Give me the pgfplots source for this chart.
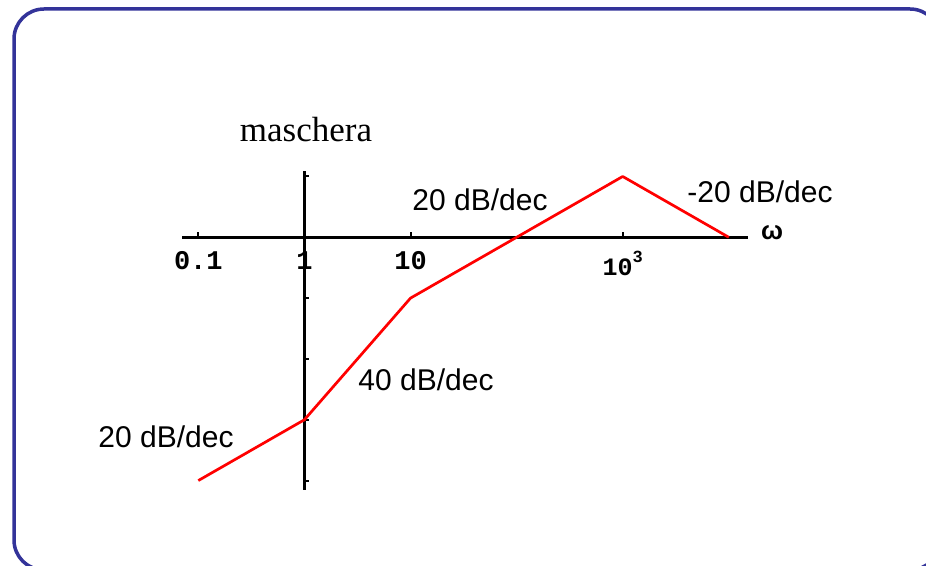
\documentclass[border=0pt]{standalone}
\usepackage{fontspec}
\setmainfont{Liberation Serif}
\setsansfont{Liberation Sans}
\setmonofont{Liberation Mono}
\usepackage{pgfplots}
\pgfplotsset{compat=1.18}
\definecolor{frameblue}{HTML}{333399}
\begin{document}
\begin{tikzpicture}[x=1pt,y=1pt]
\useasboundingbox (0,0) rectangle (926,565);
% rounded frame, partly cut at the right and bottom edges
\begin{scope}
  \clip (0,0) rectangle (926,565);
  \draw[frameblue, line width=3.5pt, rounded corners=30pt] (14,-5) rectangle (940,556);
\end{scope}
\begin{axis}[
  at={(182pt,75pt)}, anchor=south west,
  scale only axis, width=565.5pt, height=319pt,
  xmode=log, xmin=0.0702, xmax=15000,
  ymin=-83.1, ymax=21.8,
  axis lines=middle,
  axis line style={-, line width=2.6pt},
  hide obscured x ticks=false, hide obscured y ticks=false,
  xtick={0.1,1,10,1000},
  xticklabels={0.1,1,10,{\fontsize{25}{25}\selectfont 10\raisebox{0.5em}{\fontsize{17}{17}\selectfont 3}}},
  minor xtick={},
  ytick={-80,-60,-40,-20,0,20}, yticklabels={},
  tick style={black, line width=2pt},
  tick align=inside,
  major tick length=5pt,
  xticklabel style={font=\ttfamily\bfseries\fontsize{27}{27}\selectfont, anchor=north, inner sep=0pt, yshift=-14pt},
  clip=false,
]
% straight-line magnitude approximation
\addplot[red, line width=2.7pt, line join=round] coordinates {
  (0.1,-80) (1,-60) (10,-20) (1000,20) (10000,0)
};
\end{axis}
\node[font=\fontsize{35}{35}\selectfont] at (306,435) {maschera};
\node[font=\sffamily\fontsize{30}{30}\selectfont] at (480,365) {20 dB/dec};
\node[font=\sffamily\fontsize{30}{30}\selectfont] at (760,373) {-20 dB/dec};
\node[font=\sffamily\fontsize{30}{30}\selectfont] at (426,185) {40 dB/dec};
\node[font=\sffamily\fontsize{30}{30}\selectfont] at (166,128) {20 dB/dec};
\node[font=\sffamily\bfseries\fontsize{26}{26}\selectfont] at (772,332) {ω};
\end{tikzpicture}
\end{document}
